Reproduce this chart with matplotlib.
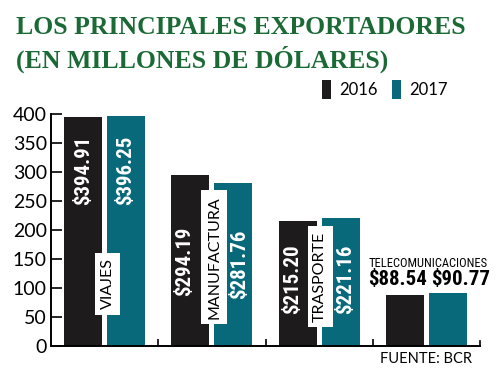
import matplotlib
matplotlib.use("Agg")
from matplotlib import pyplot as plt
from matplotlib import font_manager as fm
import numpy as np

# data
categories = ["VIAJES", "MANUFACTURA", "TRASPORTE", "TELECOMUNICACIONES"]
years = ["2016", "2017"]
values_2016 = [394.91, 294.19, 215.20, 88.54]
values_2017 = [396.25, 281.76, 221.16, 90.77]
yticks = [0, 50, 100, 150, 200, 250, 300, 350, 400]

c2016 = "#1e1b1c"
c2017 = "#07697a"
green = "#1b6a36"

names = {f.name for f in fm.fontManager.ttflist}


def pick(*cands):
    for c in cands:
        if c in names:
            return c
    return "DejaVu Sans"


narrow = pick("Liberation Sans Narrow", "Roboto Condensed", "Open Sans Condensed", "DejaVu Sans")
plain = pick("Lato", "Open Sans", "DejaVu Sans")
serif = pick("Liberation Serif", "DejaVu Serif")

fig = plt.figure(figsize=(5.0, 3.83), dpi=100)
ax = fig.add_axes([0.102, 0.0966, 0.858, 0.6057])

x = np.arange(len(categories))
off, w = 0.2, 0.355
b16 = ax.bar(x - off, values_2016, w, color=c2016, label=years[0])
b17 = ax.bar(x + off, values_2017, w, color=c2017, label=years[1])

ax.set_xlim(-0.5, 3.5)
ax.set_ylim(0, 400)
ax.set_yticks(yticks)
ax.set_xticks(x[:-1] + 0.5)
ax.set_xticklabels([])
ax.tick_params(axis="y", direction="in", length=8, width=1.2, pad=3, labelsize=14)
ax.tick_params(axis="x", direction="in", length=5, width=1.2)
for lab in ax.get_yticklabels():
    lab.set_fontfamily(plain)
for s in ["top", "right"]:
    ax.spines[s].set_visible(False)
for s in ["left", "bottom"]:
    ax.spines[s].set_linewidth(1.4)
ax.spines["bottom"].set_bounds(-0.5, 3.5)
# end tick at right of axis
ax.plot([3.5, 3.5], [0, 9], color="black", lw=1.2, clip_on=False)

# value labels inside bars (rotated), nudged sideways around the category box
label_mid = [[303, 303], [146, 141], [115, 115]]
label_dx = [[0, 0], [-0.05, 0.06], [-0.05, 0.05]]
for i in range(3):
    for j, vals in enumerate([values_2016, values_2017]):
        xx = x[i] + (-off if j == 0 else off) + label_dx[i][j]
        ax.text(xx, label_mid[i][j], f"${vals[i]:.2f}", rotation=90, ha="center",
                va="center", color="white", fontsize=15, fontweight="bold",
                family=narrow)

# category boxes
box_pos = [(0.03, 107), (1.02, 153), (2.01, 120)]
for i in range(3):
    ax.text(box_pos[i][0], box_pos[i][1], categories[i], rotation=90, ha="center",
            va="center", fontsize=11.5, family=plain, color="black",
            bbox=dict(facecolor="white", edgecolor="none", pad=4))

# telecom labels
ax.text(3.02, 143, categories[3], ha="center", va="center", fontsize=9,
        family=narrow)
ax.text(2.73, 114, f"${values_2016[3]:.2f}", ha="center", va="center",
        fontsize=15, fontweight="bold", family=narrow)
ax.text(3.32, 114, f"${values_2017[3]:.2f}", ha="center", va="center",
        fontsize=15, fontweight="bold", family=narrow)

# legend
leg = fig.legend(handles=[b16, b17], loc="upper right", bbox_to_anchor=(0.925, 0.83),
                 ncol=2, frameon=False, handlelength=0.5, handleheight=1.4,
                 handletextpad=0.5, columnspacing=0.9, prop={"family": plain, "size": 12})

# title
fig.text(0.032, 0.957, "LOS PRINCIPALES EXPORTADORES", family=serif, fontweight="bold",
         fontsize=18.5, color=green, va="top", ha="left")
fig.text(0.032, 0.882, "(EN MILLONES DE DÓLARES)", family=serif, fontweight="bold",
         fontsize=18.5, color=green, va="top", ha="left")

fig.text(0.944, 0.063, "FUENTE: BCR", family=plain, fontsize=10.5, ha="right",
         va="center")

fig.savefig("out.png", dpi=100)
